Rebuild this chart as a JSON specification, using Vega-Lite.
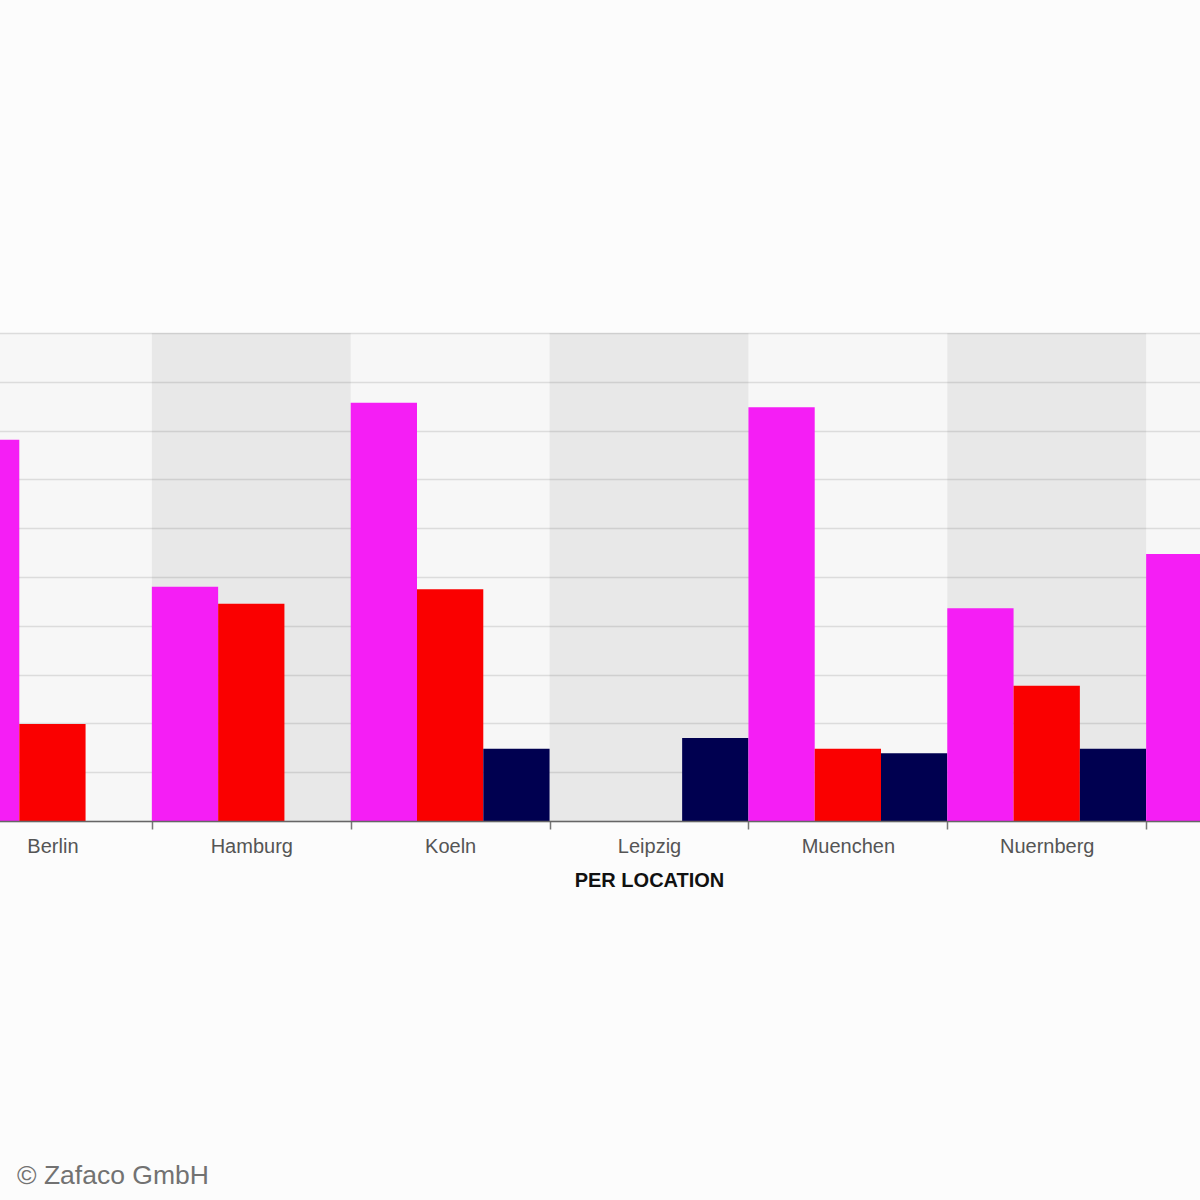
{
  "$schema": "https://vega.github.io/schema/vega-lite/v6.json",
  "width": 1200,
  "height": 488,
  "autosize": {"type": "none"},
  "padding": {"left": 0, "top": 333, "right": 0, "bottom": 379},
  "background": "#fcfcfc",
  "title": {
    "text": "© Zafaco GmbH",
    "orient": "bottom",
    "anchor": "start",
    "frame": "group",
    "offset": 273,
    "dx": 17,
    "font": "Liberation Sans",
    "fontSize": 26.5,
    "fontWeight": "normal",
    "color": "#727272"
  },
  "config": {"view": {"fill": "#f7f7f7", "stroke": null}},
  "data": {
    "values": [
      {"location": "Berlin", "series": "Serie 1", "value": 7.81},
      {"location": "Berlin", "series": "Serie 2", "value": 1.99},
      {"location": "Hamburg", "series": "Serie 1", "value": 4.8},
      {"location": "Hamburg", "series": "Serie 2", "value": 4.45},
      {"location": "Koeln", "series": "Serie 1", "value": 8.57},
      {"location": "Koeln", "series": "Serie 2", "value": 4.75},
      {"location": "Koeln", "series": "Serie 3", "value": 1.48},
      {"location": "Leipzig", "series": "Serie 3", "value": 1.7},
      {"location": "Muenchen", "series": "Serie 1", "value": 8.48},
      {"location": "Muenchen", "series": "Serie 2", "value": 1.48},
      {"location": "Muenchen", "series": "Serie 3", "value": 1.39},
      {"location": "Nuernberg", "series": "Serie 1", "value": 4.36},
      {"location": "Nuernberg", "series": "Serie 2", "value": 2.77},
      {"location": "Nuernberg", "series": "Serie 3", "value": 1.48},
      {"location": "Stuttgart", "series": "Serie 1", "value": 5.47}
    ]
  },
  "encoding": {
    "x": {
      "field": "location",
      "type": "nominal",
      "scale": {
        "domain": ["Berlin", "Hamburg", "Koeln", "Leipzig", "Muenchen", "Nuernberg", "Stuttgart"],
        "range": [-47, 1345],
        "paddingInner": 0,
        "paddingOuter": 0
      },
      "axis": {
        "title": "PER LOCATION",
        "titleFont": "Liberation Sans",
        "titleFontSize": 20,
        "titleFontWeight": "bold",
        "titleColor": "#111111",
        "titlePadding": 14,
        "labelFont": "Liberation Sans",
        "labelFontSize": 20,
        "labelColor": "#555555",
        "labelPadding": 7,
        "labelAngle": 0,
        "labelExpr": "datum.value == 'Stuttgart' ? '' : datum.value",
        "tickSize": 8,
        "tickColor": "#777777",
        "tickWidth": 1.5,
        "tickBand": "extent",
        "domainColor": "#666666",
        "domainWidth": 1.5,
        "grid": false,
        "zindex": 1
      }
    }
  },
  "layer": [
    {
      "transform": [
        {"filter": {"field": "location", "oneOf": ["Hamburg", "Leipzig", "Nuernberg"]}},
        {"aggregate": [{"op": "count", "as": "n"}], "groupby": ["location"]}
      ],
      "mark": {"type": "bar", "color": "black", "opacity": 0.06},
      "encoding": {
        "y": {
          "datum": 10,
          "type": "quantitative",
          "scale": {"domain": [0, 10], "nice": false},
          "axis": {"title": null, "labels": false, "ticks": false, "domain": false, "grid": true, "values": [0,1,2,3,4,5,6,7,8,9,10], "gridColor": "#dcdcdc", "gridWidth": 1.5}
        }
      }
    },
    {
      "mark": {"type": "bar"},
      "encoding": {
        "xOffset": {
          "field": "series",
          "type": "nominal",
          "scale": {"domain": ["Serie 1", "Serie 2", "Serie 3"], "paddingInner": 0, "paddingOuter": 0}
        },
        "y": {
          "field": "value",
          "type": "quantitative",
          "scale": {"domain": [0, 10], "nice": false},
          "axis": {"title": null, "labels": false, "ticks": false, "domain": false, "grid": true, "values": [0,1,2,3,4,5,6,7,8,9,10], "gridColor": "#dcdcdc", "gridWidth": 1.5}
        },
        "color": {
          "field": "series",
          "type": "nominal",
          "scale": {"domain": ["Serie 1", "Serie 2", "Serie 3"], "range": ["#f51ef5", "#fa0000", "#000050"]},
          "legend": null
        }
      }
    }
  ]
}
